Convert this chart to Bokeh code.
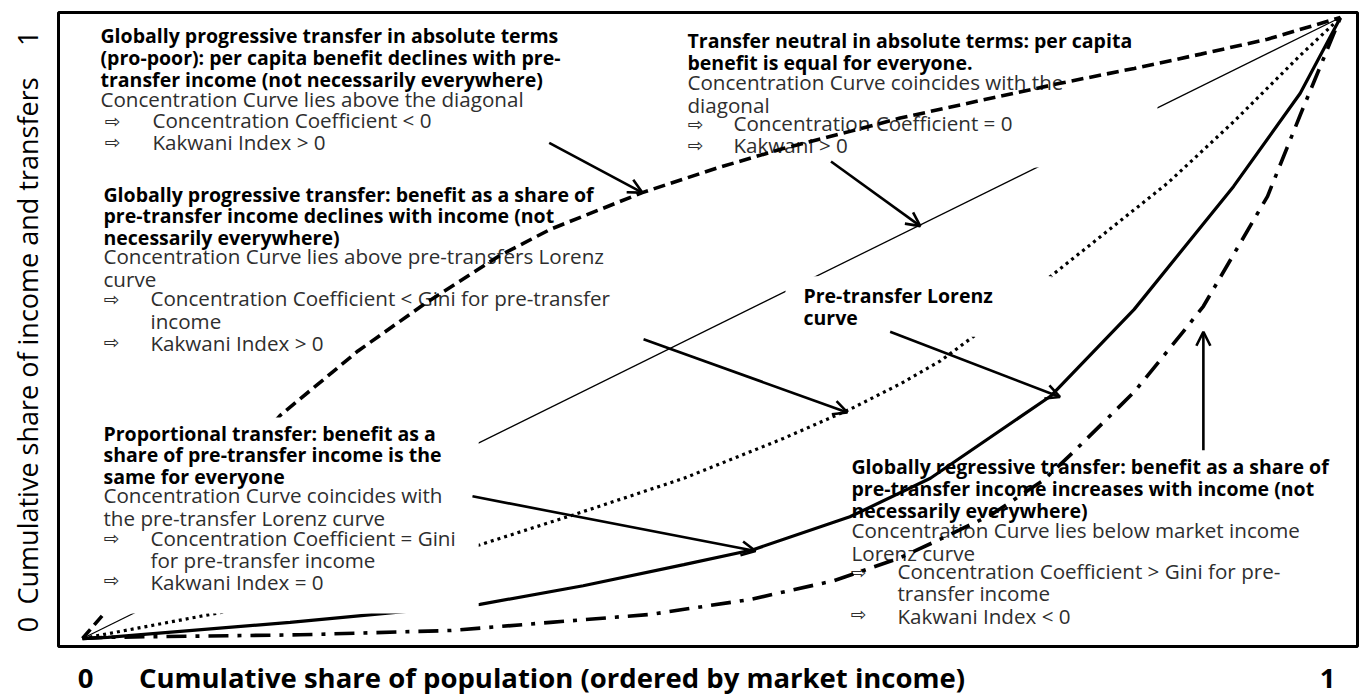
from bokeh.plotting import figure
from bokeh.models import (Range1d, ColumnDataSource, Arrow, OpenHead, LinearAxis,
                          FixedTicker, CustomJSTickFormatter)
from bokeh.core.properties import value
from bokeh.embed import file_html
from bokeh.resources import INLINE

# ---------------- data ----------------
# x: cumulative share of population, y: cumulative share of income / transfers
diag_x = [0.0, 1.0]
diag_y = [0.0, 1.0]

# globally progressive in absolute terms (dashed, above diagonal)
propoor_x = [0.0, 0.020, 0.157, 0.219, 0.272, 0.332, 0.372, 0.445, 0.505, 0.557,
             0.611, 0.650, 0.704, 0.777, 0.836, 0.889, 0.942, 1.0]
propoor_y = [0.0, 0.047, 0.359, 0.463, 0.539, 0.617, 0.659, 0.718, 0.758, 0.789,
             0.817, 0.838, 0.862, 0.894, 0.918, 0.941, 0.965, 1.0]

# globally progressive (dotted, above pre-transfer Lorenz)
prog_x = [0.0, 0.123, 0.316, 0.390, 0.478, 0.557, 0.611, 0.650, 0.682, 0.712,
          0.767, 0.863, 0.915, 0.968, 1.0]
prog_y = [0.0, 0.047, 0.151, 0.199, 0.258, 0.322, 0.370, 0.410, 0.447, 0.492,
          0.579, 0.734, 0.832, 0.939, 1.0]

# pre-transfer Lorenz curve (solid)
lorenz_x = [0.0, 0.020, 0.165, 0.316, 0.398, 0.478, 0.533, 0.610, 0.674,
            0.770, 0.836, 0.915, 0.968, 1.0]
lorenz_y = [0.0, 0.002, 0.026, 0.055, 0.085, 0.119, 0.143, 0.196, 0.258,
            0.391, 0.530, 0.728, 0.878, 1.0]

# globally regressive (dash-dot, below Lorenz)
regr_x = [0.0, 0.020, 0.173, 0.293, 0.372, 0.452, 0.531, 0.597, 0.650, 0.684,
          0.722, 0.764, 0.788, 0.836, 0.875, 0.891, 0.942, 0.968, 1.0]
regr_y = [0.0, 0.002, 0.006, 0.013, 0.026, 0.039, 0.063, 0.093, 0.130, 0.162,
          0.199, 0.255, 0.301, 0.397, 0.494, 0.535, 0.712, 0.843, 1.0]

x_labels = ["0", "Cumulative share of population (ordered by market income)", "1"]
y_labels = ["0", "Cumulative share of income and transfers", "1"]

# annotation texts
t1_head = ["Globally progressive transfer in absolute terms",
           "(pro-poor): per capita benefit declines with pre-",
           "transfer income (not necessarily everywhere)"]
t1_body = ["Concentration Curve lies above the diagonal"]
t1_bul = ["Concentration Coefficient < 0", "Kakwani Index > 0"]

t2_head = ["Globally progressive transfer: benefit as a share of",
           "pre-transfer income declines with income (not",
           "necessarily everywhere)"]
t2_body = ["Concentration Curve lies above pre-transfers  Lorenz", "curve"]
t2_bul = ["Concentration Coefficient < Gini for pre-transfer", "income", "Kakwani Index > 0"]

t3_head = ["Proportional transfer: benefit as a",
           "share of pre-transfer income is the",
           "same for everyone"]
t3_body = ["Concentration Curve coincides with", "the pre-transfer Lorenz curve"]
t3_bul = ["Concentration Coefficient = Gini", "for pre-transfer income", "Kakwani Index = 0"]

t4_head = ["Transfer neutral in absolute terms: per capita",
           "benefit is  equal for everyone."]
t4_body = ["Concentration Curve coincides with the", "diagonal"]
t4_bul = ["Concentration Coefficient = 0", "Kakwani > 0"]

t5_head = ["Pre-transfer Lorenz", "curve"]

t6_head = ["Globally regressive transfer: benefit as a share of",
           "pre-transfer income increases with income (not",
           "necessarily everywhere)"]
t6_body = ["Concentration Curve lies below market income", "Lorenz curve"]
t6_bul = ["Concentration Coefficient > Gini for pre-", "transfer income", "Kakwani Index < 0"]

# arrows (data units): start -> end
arr_x0 = [0.371, 0.595, 0.446, 0.642, 0.310, 0.891]
arr_y0 = [0.798, 0.768, 0.482, 0.494, 0.229, 0.303]
arr_x1 = [0.445, 0.666, 0.608, 0.777, 0.535, 0.891]
arr_y1 = [0.718, 0.664, 0.364, 0.389, 0.141, 0.494]


# ---------------- layout helpers (reference pixel -> data) ----------------
def X(px):
    return (px - 82) / 1258.0


def Y(py):
    return (641 - py) / 624.0


FONT = value("Open Sans")
LH = 0.80
SIZE = "20.6px"
BSIZE = "19.5px"
BODY = "#2e2e2e"

p = figure(width=1360, height=698,
           x_range=Range1d(X(58), X(1357)), y_range=Range1d(Y(649), Y(12)),
           output_backend="svg", toolbar_location=None,
           x_axis_location=None, y_axis_location=None,
           min_border_left=58, min_border_right=3, min_border_top=12, min_border_bottom=49)
p.grid.visible = False
p.outline_line_color = "black"
p.outline_line_width = 3
p.background_fill_color = "white"
p.border_fill_color = "white"

xa = LinearAxis(ticker=FixedTicker(ticks=[X(85), X(551.5), X(1327)]),
                formatter=CustomJSTickFormatter(args=dict(labels=x_labels), code="return labels[index];"),
                axis_line_color=None, major_tick_line_color=None, minor_tick_line_color=None,
                major_tick_in=0, major_tick_out=0, major_label_standoff=12,
                major_label_text_font="Open Sans", major_label_text_font_size="27.5px",
                major_label_text_font_style="bold", major_label_text_color="black")
p.add_layout(xa, "below")
ya = LinearAxis(ticker=FixedTicker(ticks=[Y(627), Y(342), Y(38)]),
                formatter=CustomJSTickFormatter(args=dict(labels=y_labels), code="return labels[index];"),
                axis_line_color=None, major_tick_line_color=None, minor_tick_line_color=None,
                major_tick_in=0, major_tick_out=0, major_label_standoff=12,
                major_label_orientation="vertical",
                major_label_text_font="Open Sans", major_label_text_font_size="27px",
                major_label_text_color="black")
p.add_layout(ya, "left")


def block(px, py_top, lines, bold=False, pad=None):
    kw = {}
    ax, ay = px, py_top
    if pad is not None:
        kw = dict(background_fill_color="white", padding=pad)
        ax -= pad["left"]
        ay -= pad["top"]
    src = ColumnDataSource(dict(x=[X(ax)], y=[Y(ay)], t=["\n".join(lines)]))
    p.text(x="x", y="y", text="t", source=src, text_font=FONT,
           text_font_size=BSIZE if bold else SIZE,
           text_font_style="bold" if bold else "normal",
           text_color="black" if bold else BODY,
           text_align="left", text_baseline="top", text_line_height=LH, **kw)


def bullets(px, centers):
    src = ColumnDataSource(dict(x=[X(px)] * len(centers), y=[Y(c) for c in centers],
                                t=["\u21e8"] * len(centers)))
    p.text(x="x", y="y", text="t", source=src, text_font=value("DejaVu Sans"),
           text_font_size="19px", text_color=BODY, text_align="left", text_baseline="middle")


def pad(l, r, t, b):
    return dict(left=l, right=r, top=t, bottom=b)


# text boxes that sit underneath every curve
block(100, 22, t1_head, bold=True)
block(100, 85, t1_body)
block(152, 106, t1_bul)
bullets(104, [121, 142])

block(851, 455, t6_head, bold=True)
block(851, 518, t6_body)
block(897, 559, t6_bul)
bullets(850, [574, 616])

block(103, 181, t2_head, bold=True)
block(103, 243, t2_body)
block(150, 285, t2_bul)
bullets(103, [300, 343])

# curves
p.line(diag_x, diag_y, line_color="black", line_width=1.3)
p.line(prog_x, prog_y, line_color="black", line_width=3.2, line_dash="3 4")
p.line(lorenz_x, lorenz_y, line_color="black", line_width=3.2)
p.line(regr_x, regr_y, line_color="black", line_width=3.6, line_dash="20 9 4 9")

# transfer-neutral box: its white fill hides the diagonal beneath it
block(733, 109, t4_bul, pad=pad(49, 145, 12, 8))
block(687, 68, t4_body)
block(687, 27, t4_head, bold=True)
bullets(687, [124, 145])

p.line(propoor_x, propoor_y, line_color="black", line_width=3.6, line_dash="12 6")

# proportional-transfer box: its white fill hides the curves underneath
block(150, 525, t3_bul, pad=pad(50, 23, 106, 17))
block(103, 483, t3_body)
block(103, 421, t3_head, bold=True)
bullets(103, [540, 582])

block(803, 283, t5_head, bold=True, pad=pad(18, 59, 6, 6))

# arrows
arr_src = ColumnDataSource(dict(x0=arr_x0, y0=arr_y0, x1=arr_x1, y1=arr_y1))
p.add_layout(Arrow(x_start="x0", y_start="y0", x_end="x1", y_end="y1", source=arr_src,
                   line_color="black", line_width=2.6,
                   end=OpenHead(size=14, line_width=2.6, line_color="black")))

open("out.html", "w").write(file_html(p, INLINE))
